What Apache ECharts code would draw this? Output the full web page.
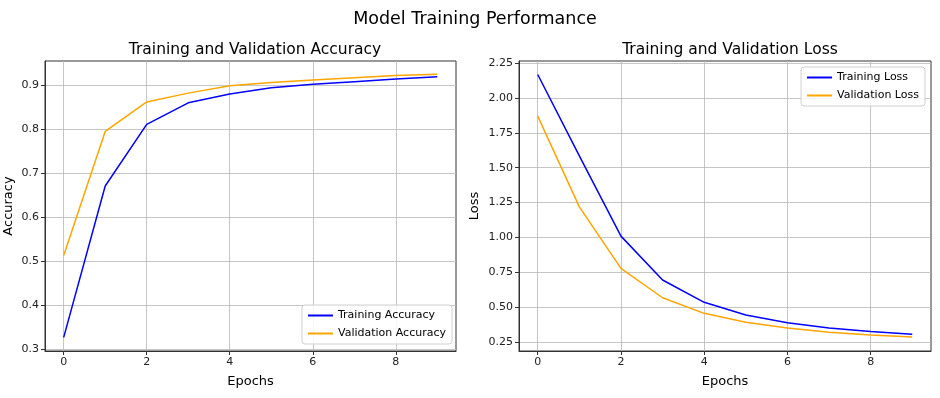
<!DOCTYPE html>
<html>
<head>
<meta charset="utf-8">
<script src="https://cdn.jsdelivr.net/npm/echarts@6/dist/echarts.min.js"></script>
<style>html,body{margin:0;padding:0;background:#fff}#c{width:940px;height:398px}</style>
</head>
<body>
<div id="c"></div>
<script>
const epochs = [0, 1, 2, 3, 4, 5, 6, 7, 8, 9];
const trainAcc = [0.327, 0.671, 0.811, 0.860, 0.880, 0.894, 0.902, 0.908, 0.914, 0.919];
const valAcc   = [0.513, 0.795, 0.862, 0.882, 0.899, 0.906, 0.912, 0.917, 0.922, 0.925];
const trainLoss = [2.168, 1.585, 1.009, 0.694, 0.534, 0.443, 0.388, 0.350, 0.324, 0.305];
const valLoss   = [1.870, 1.219, 0.778, 0.567, 0.455, 0.391, 0.350, 0.319, 0.300, 0.285];
const xTicks = [0, 2, 4, 6, 8];
const accTicks = [0.3, 0.4, 0.5, 0.6, 0.7, 0.8, 0.9];
const lossTicks = [0.25, 0.5, 0.75, 1.0, 1.25, 1.5, 1.75, 2.0, 2.25];

const FONT = 'DejaVu Sans';
const pair = (ys) => epochs.map((e, i) => [e, ys[i]]);

function xAxisCfg(gi) {
  return {
    type: 'value', gridIndex: gi, min: -0.45, max: 9.45,
    name: 'Epochs', nameLocation: 'middle', nameGap: 24,
    nameTextStyle: {fontFamily: FONT, fontSize: 13, color: '#000'},
    axisLine: {show: true, onZero: false, lineStyle: {color: '#333', width: 1}},
    axisTick: {show: true, length: 4, lineStyle: {color: '#333'}, customValues: xTicks},
    axisLabel: {fontFamily: FONT, fontSize: 11, color: '#222', margin: 6, customValues: xTicks,
                formatter: v => String(v)},
    splitLine: {show: true, lineStyle: {color: '#b8b8b8', width: 0.8}}
  };
}
function yAxisCfg(gi, name, min, max, ticks, dec, gap) {
  return {
    type: 'value', gridIndex: gi, min: min, max: max,
    name: name, nameLocation: 'middle', nameGap: gap, nameRotate: 90,
    nameTextStyle: {fontFamily: FONT, fontSize: 13, color: '#000'},
    axisLine: {show: true, onZero: false, lineStyle: {color: '#333', width: 1}},
    axisTick: {show: true, length: 4, lineStyle: {color: '#333'}, customValues: ticks},
    axisLabel: {fontFamily: FONT, fontSize: 11, color: '#222', margin: 6, customValues: ticks,
                formatter: v => v.toFixed(dec)},
    splitLine: {show: true, lineStyle: {color: '#b8b8b8', width: 0.8}}
  };
}
function lineSeries(name, data, color, xi) {
  return {
    name: name, type: 'line', xAxisIndex: xi, yAxisIndex: xi,
    data: data, symbol: 'none', showSymbol: false, animation: false,
    lineStyle: {color: color, width: 1.5}, itemStyle: {color: color}
  };
}
const legendBase = {
  orient: 'vertical', icon: 'path://M0,0 L25,0 L25,2 L0,2 Z',
  itemWidth: 25, itemHeight: 2, itemGap: 7,
  textStyle: {fontFamily: FONT, fontSize: 11, color: '#000'},
  backgroundColor: 'rgba(255,255,255,0.85)', borderColor: '#d0d0d0', borderWidth: 1, borderRadius: 3,
  padding: [5, 6, 5, 6]
};

const chart = echarts.init(document.getElementById('c'), null, {renderer: 'canvas'});
chart.setOption({
  animation: false,
  backgroundColor: '#fff',
  title: [
    {text: 'Model Training Performance', left: 470, top: 5, textAlign: 'center',
     textStyle: {fontFamily: FONT, fontSize: 17.5, fontWeight: 'normal', color: '#000'}},
    {text: 'Training and Validation Accuracy', left: 250, top: 37, textAlign: 'center',
     textStyle: {fontFamily: FONT, fontSize: 15.5, fontWeight: 'normal', color: '#000'}},
    {text: 'Training and Validation Loss', left: 725, top: 37, textAlign: 'center',
     textStyle: {fontFamily: FONT, fontSize: 15.5, fontWeight: 'normal', color: '#000'}}
  ],
  grid: [
    {left: 45, top: 61, width: 411, height: 290, show: true, borderColor: '#333', borderWidth: 1, containLabel: false},
    {left: 519, top: 61, width: 412, height: 290, show: true, borderColor: '#333', borderWidth: 1, containLabel: false}
  ],
  xAxis: [xAxisCfg(0), xAxisCfg(1)],
  yAxis: [
    yAxisCfg(0, 'Accuracy', 0.296, 0.955, accTicks, 1, 30),
    yAxisCfg(1, 'Loss', 0.185, 2.265, lossTicks, 2, 38)
  ],
  legend: [
    Object.assign({}, legendBase, {data: ['Training Accuracy', 'Validation Accuracy'], right: 488, bottom: 54}),
    Object.assign({}, legendBase, {data: ['Training Loss', 'Validation Loss'], right: 15, top: 67})
  ],
  series: [
    lineSeries('Training Accuracy', pair(trainAcc), '#0000ff', 0),
    lineSeries('Validation Accuracy', pair(valAcc), '#ffa500', 0),
    lineSeries('Training Loss', pair(trainLoss), '#0000ff', 1),
    lineSeries('Validation Loss', pair(valLoss), '#ffa500', 1)
  ]
});
</script>
</body>
</html>
